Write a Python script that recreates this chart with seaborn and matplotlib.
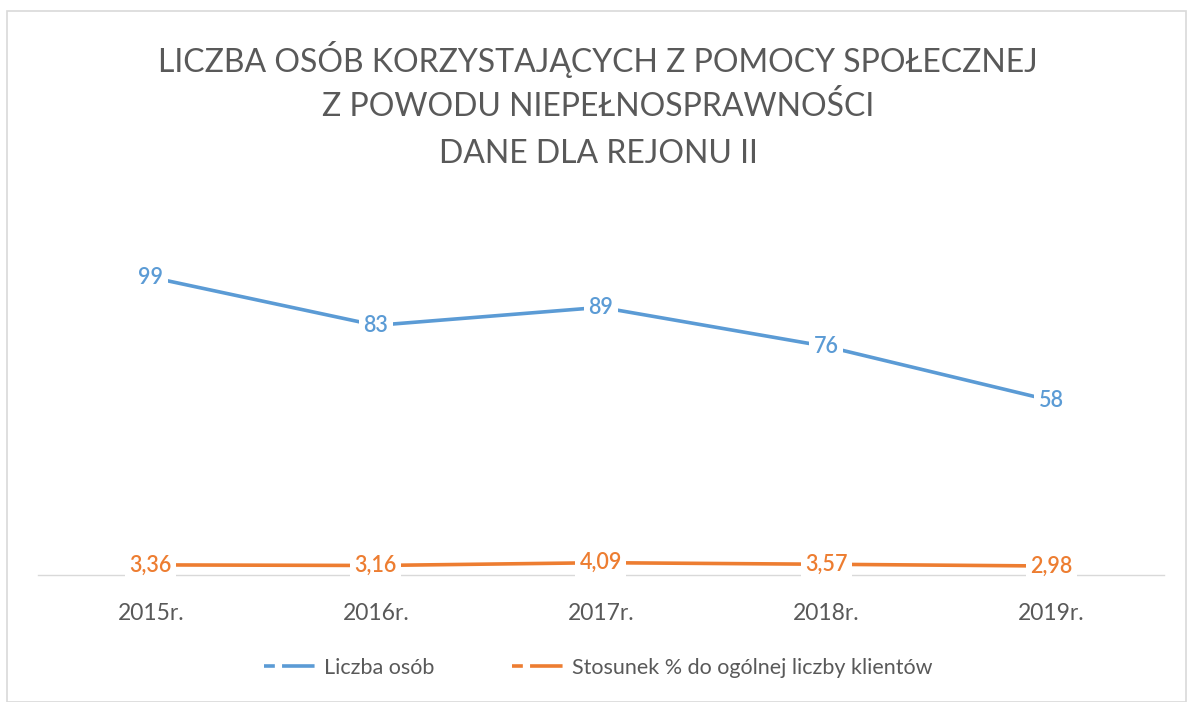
import matplotlib
matplotlib.use("Agg")
import matplotlib.pyplot as plt
from matplotlib.lines import Line2D
from matplotlib.patches import Rectangle
import seaborn as sns
import pandas as pd

years = ["2015r.", "2016r.", "2017r.", "2018r.", "2019r."]
liczba_osob = [99, 83, 89, 76, 58]
stosunek_proc = [3.36, 3.16, 4.09, 3.57, 2.98]
series_names = ["Liczba osób", "Stosunek % do ogólnej liczby klientów"]
title_lines = [
    "LICZBA OSÓB KORZYSTAJĄCYCH Z POMOCY SPOŁECZNEJ",
    "Z POWODU NIEPEŁNOSPRAWNOŚCI",
    "DANE DLA REJONU II",
]

BLUE = "#5B9BD5"
ORANGE = "#ED7D31"
GREY = "#595959"

sns.set_theme(style="white")
plt.rcParams["font.family"] = ["Lato", "DejaVu Sans"]

df = pd.DataFrame({
    "pos": list(range(len(years))) * 2,
    "value": liczba_osob + stosunek_proc,
    "series": [series_names[0]] * len(years) + [series_names[1]] * len(years),
})

fig = plt.figure(figsize=(11.96, 7.02), dpi=100)
ax = fig.add_axes([0.032, 1 - 575 / 702, 0.941, (575 - 190) / 702])

sns.lineplot(data=df, x="pos", y="value", hue="series",
             palette=[BLUE, ORANGE], linewidth=2.6, legend=False, ax=ax,
             sort=False)

ax.set_xlim(-0.5, len(years) - 0.5)
ax.set_ylim(0, 128)
ax.set_xticks(range(len(years)))
ax.set_xticklabels(years, fontsize=16.5, color=GREY)
ax.tick_params(axis="x", length=0, pad=20)
ax.set_yticks([])
ax.set_xlabel("")
ax.set_ylabel("")
for side in ["top", "left", "right"]:
    ax.spines[side].set_visible(False)
ax.spines["bottom"].set_color("#D9D9D9")
ax.spines["bottom"].set_linewidth(1.0)

def fmt(v):
    return f"{v:.2f}".replace(".", ",") if isinstance(v, float) else str(v)

for values, color in [(liczba_osob, BLUE), (stosunek_proc, ORANGE)]:
    for i, v in enumerate(values):
        ax.text(i, v, fmt(v), ha="center", va="center", fontsize=15.5,
                color=color, zorder=5, fontweight="semibold",
                bbox=dict(boxstyle="square,pad=0.2", fc="white", ec="none"))

# chart title
for k, line in enumerate(title_lines):
    fig.text(0.5, 1 - (60 + 47 * k) / 702, line, ha="center", va="center",
             fontsize=23, color=GREY, fontweight="normal")

handles = [Line2D([0], [0], color=BLUE, lw=2.6, dashes=(3, 2, 6, 0)),
           Line2D([0], [0], color=ORANGE, lw=2.6, dashes=(3, 2, 6, 0))]
fig.legend(handles, series_names, loc="center", bbox_to_anchor=(0.5, 1 - 668 / 702),
           ncol=2, frameon=False, fontsize=15.5, labelcolor=GREY,
           handlelength=2.6, handletextpad=0.2, columnspacing=3.6)

fig.patches.append(Rectangle((7 / 1196, 0), (1186 - 7) / 1196, 1 - 11 / 702,
                             transform=fig.transFigure, fill=False,
                             ec="#D9D9D9", lw=1.2))

fig.savefig("out.png", dpi=100, facecolor="white")
